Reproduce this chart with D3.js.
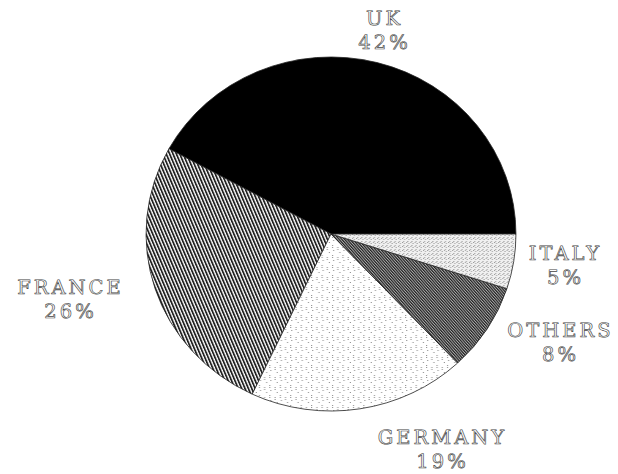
<!DOCTYPE html>
<html>
<head>
<meta charset="utf-8">
<script src="https://cdn.jsdelivr.net/npm/d3@7"></script>
<style>
  body { margin: 0; background: #fff; }
  svg { display: block; }
</style>
</head>
<body>
<script>
// chart data
const countries = ["UK", "FRANCE", "GERMANY", "OTHERS", "ITALY"];
const shares = [42, 26, 19, 8, 5];

const width = 618, height = 474;
const cx = 331, cy = 234, r = 177, sx = 1.045;

const svg = d3.select("body").append("svg")
    .attr("width", width)
    .attr("height", height);

const defs = svg.append("defs");

// diagonal hatch for France
const pFr = defs.append("pattern").attr("id", "p-france")
    .attr("patternUnits", "userSpaceOnUse").attr("width", 3).attr("height", 10)
    .attr("patternTransform", "rotate(-22)");
pFr.append("rect").attr("width", 3).attr("height", 10).attr("fill", "#fff");
pFr.append("rect").attr("width", 1.7).attr("height", 10).attr("fill", "#222");

// fine dark hatch for Others
const pOt = defs.append("pattern").attr("id", "p-others")
    .attr("patternUnits", "userSpaceOnUse").attr("width", 2).attr("height", 10)
    .attr("patternTransform", "rotate(-40)");
pOt.append("rect").attr("width", 2).attr("height", 10).attr("fill", "#aaa");
pOt.append("rect").attr("width", 1.1).attr("height", 10).attr("fill", "#222");

// sparse dots for Germany
const pGe = defs.append("pattern").attr("id", "p-germany")
    .attr("patternUnits", "userSpaceOnUse").attr("width", 10).attr("height", 10);
pGe.append("rect").attr("width", 10).attr("height", 10).attr("fill", "#fff");
[[1, 1], [6, 3], [2, 6], [8, 8], [1, 3], [6, 5]].forEach(([x, y]) =>
  pGe.append("rect").attr("x", x).attr("y", y).attr("width", 1).attr("height", 1).attr("fill", "#888"));

// denser dots for Italy
const pIt = defs.append("pattern").attr("id", "p-italy")
    .attr("patternUnits", "userSpaceOnUse").attr("width", 4).attr("height", 4);
pIt.append("rect").attr("width", 4).attr("height", 4).attr("fill", "#f0f0f0");
[[0, 0], [2, 1], [1, 3]].forEach(([x, y]) =>
  pIt.append("rect").attr("x", x).attr("y", y).attr("width", 1).attr("height", 1).attr("fill", "#999"));

const fills = d3.scaleOrdinal()
    .domain(countries)
    .range(["#000", "url(#p-france)", "url(#p-germany)", "url(#p-others)", "url(#p-italy)"]);

// start at 3 o'clock and run counterclockwise
const pie = d3.pie().sort(null)
    .startAngle(Math.PI / 2)
    .endAngle(Math.PI / 2 - 2 * Math.PI);

const arc = d3.arc().innerRadius(0).outerRadius(r);

const data = pie(shares);

const g = svg.append("g")
    .attr("transform", `translate(${cx},${cy}) scale(${sx},1)`);

g.selectAll("path")
  .data(data)
  .enter().append("path")
    .attr("d", arc)
    .attr("fill", (d, i) => fills(countries[i]))
    .attr("stroke", "#222")
    .attr("stroke-width", 0.8)
    .attr("vector-effect", "non-scaling-stroke");

// label placement (layout only)
const labelPos = {
  UK: [383, 25],
  FRANCE: [69, 294],
  GERMANY: [441, 444],
  OTHERS: [559, 337],
  ITALY: [564, 260]
};

const labels = svg.append("g")
    .attr("font-family", "DejaVu Serif")
    .attr("font-size", 19.5)
    .attr("letter-spacing", 3)
    .attr("fill", "#fff")
    .attr("stroke", "#444")
    .attr("stroke-width", 0.65)
    .attr("text-rendering", "geometricPrecision");

countries.forEach((c, i) => {
  const [x, y] = labelPos[c];
  const t = labels.append("text")
      .attr("text-anchor", "middle")
      .attr("x", x).attr("y", y);
  t.append("tspan").attr("x", x + 1.5).text(c);
  t.append("tspan").attr("x", x + 1.5).attr("dy", 24).text(shares[i] + "%");
});
</script>
</body>
</html>
